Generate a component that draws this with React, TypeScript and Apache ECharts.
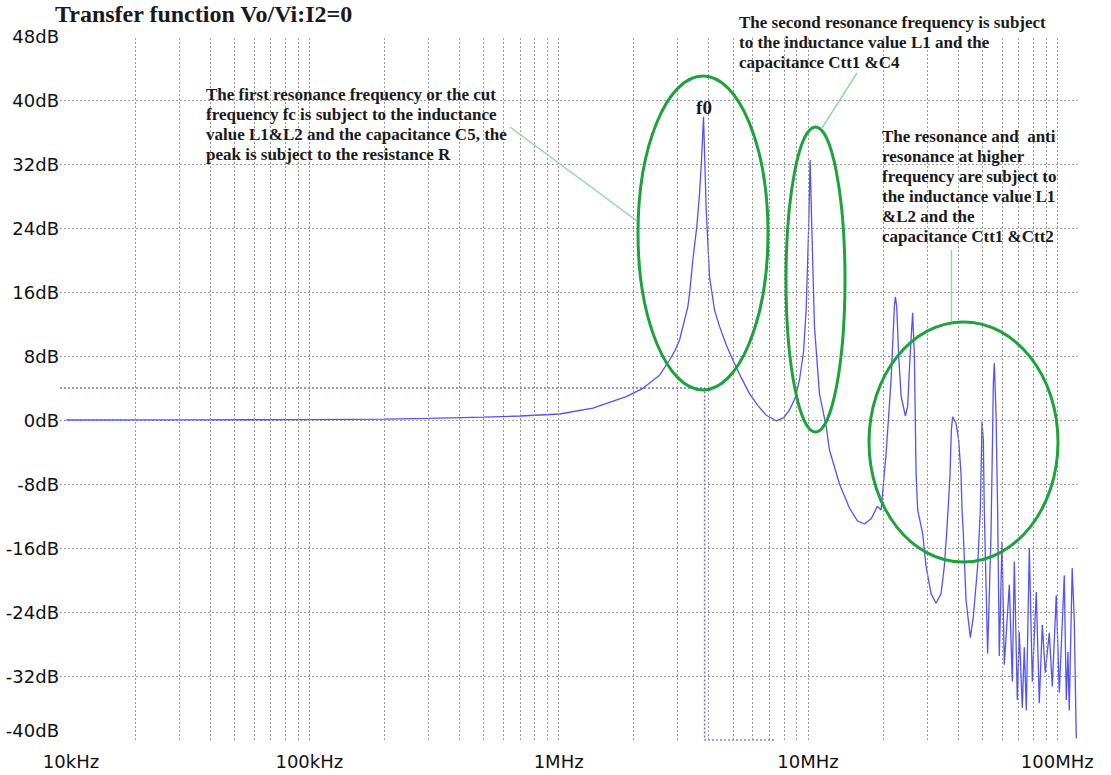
import React, { useEffect, useRef } from "react";
import * as echarts from "echarts";

// ---- data (frequency in MHz, gain in dB) ----
const freqMHz = [
  0.0106, 0.03, 0.1, 0.2, 0.3, 0.5, 0.7, 1.01, 1.372, 1.867, 2.177, 2.54, 2.786, 2.92, 3.055, 3.199, 3.3, 3.351,
  3.454, 3.584, 3.674, 3.742, 3.812, 3.908, 4.03, 4.22, 4.419, 4.7, 4.995, 5.4, 5.83, 6.3, 6.801, 7.457, 8.0, 8.432,
  8.9, 9.245, 9.6, 9.835, 10.07, 10.2, 10.36, 10.62, 11.12, 11.83, 12.2, 13.38, 14.67, 15.79, 16.84, 17.97,
  18.99, 19.65, 20.58, 21.55, 22.22, 22.43, 22.7, 23.12, 23.64, 24.59, 25.12, 25.68, 26.3, 26.72,
  27.15, 27.55, 28.85, 29.77, 31.17, 32.64, 34.19, 35.24, 36.0, 36.67, 37.15, 37.6, 38.05, 39.26,
  40.22, 41.11, 41.5, 42.0, 43.06, 44.8, 46.06, 47.93, 49.14, 49.91, 50.52, 50.98, 52.56, 54.24,
  55.05, 55.41, 55.92, 56.8, 57.65, 58.56, 60.04, 61.33, 64.22, 66.02, 67.26, 69.15, 70.43, 72.41,
  73.75, 75.14, 77.25, 79.41, 82.39, 84.71, 87.09, 89.53, 92.89, 95.5, 99.08, 101.9, 106.7, 108.7,
  110.4, 111.7, 114.8, 117.0, 119.2,
];
const gainDb = [
  0, 0.01, 0.05, 0.12, 0.2, 0.35, 0.5, 0.75, 1.48, 2.92, 3.96, 5.6, 7.5, 8.6, 10, 12.5, 14.2, 15.8,
  20, 24.2, 28.3, 32.5, 37.9, 26.25, 17.9, 13.75, 11.7, 9.4, 7.5, 5.3, 3.3, 1.8, 0.6, -0.1, 0.3, 1.25,
  2.8, 5, 8.5, 13.75, 24.2, 32.5, 24.2, 11.7, 3.3, -0.8, -3.75, -8, -11, -12.6, -13, -12.3,
  -10.8, -11.25, -4.2, 5, 14.2, 15.4, 14.2, 8, 3, 0.5, 1.7, 8, 13.4, 8,
  -6.7, -11.25, -14.2, -18.3, -21.7, -22.9, -21.7, -18.3, -14.2, -10, -6.7, -1.25, 0.4, -0.4,
  -2.5, -6.7, -11.25, -14.2, -22.5, -27.2, -24.6, -18.3, -11.25, -0.2, -2.5, -11.25, -29.2, -14.2,
  -1.7, 4.6, 7.1, 0.8, -11.25, -29.5, -15.2, -30.6, -20.6, -32.7, -17.7, -35, -26.5, -36,
  -28.4, -36.3, -16, -32.7, -21.5, -35.4, -25.6, -31.6, -26.6, -33.3, -21.9, -34.1, -19.4, -35,
  -29, -36.3, -18.5, -25, -39.8,
];

// cursor (dotted marker) at f0
const cursorMHz = [0.01, 3.85, 3.85, 7.34];
const cursorDb = [4, 4, -40, -40];

// axis ticks
const yTicksDb = [-40, -32, -24, -16, -8, 0, 8, 16, 24, 32, 40, 48];
const decadesHz = [1e4, 1e5, 1e6, 1e7, 1e8];
const decadeLabels = ["10kHz", "100kHz", "1MHz", "10MHz", "100MHz"];
const gridMultipliers = [1, 2, 3, 4, 5, 6, 7, 8, 9];

const titleText = "Transfer function Vo/Vi:I2=0";
const note1 =
  "The first resonance frequency or the cut\nfrequency fc is subject to the inductance\nvalue L1&L2 and the capacitance C5, the\npeak is subject to the resistance R";
const note2 =
  "The second resonance frequency is subject\nto the inductance value L1 and the\ncapacitance Ctt1 &C4";
const note3 =
  "The resonance and  anti\nresonance at higher\nfrequency are subject to\nthe inductance value L1\n&L2 and the\ncapacitance Ctt1 &Ctt2";

const GREEN = "#1ca33c";
const LEADER = "#8dd7a0";
const NOTE_FONT = 'bold 17px "Liberation Serif", "Times New Roman", serif';

export default function App() {
  const ref = useRef<HTMLDivElement>(null);

  useEffect(() => {
    if (!ref.current) return;
    const chart = echarts.init(ref.current, undefined, { renderer: "svg" });

    const curve = freqMHz.map((f, i) => [f * 1e6, gainDb[i]]);
    const cursor = cursorMHz.map((f, i) => [f * 1e6, cursorDb[i]]);
    const gridFreqs: number[] = [];
    decadesHz.forEach((d) =>
      gridMultipliers.forEach((m) => {
        const f = d * m;
        if (f > decadesHz[0] && f <= decadesHz[decadesHz.length - 1]) gridFreqs.push(f);
      })
    );

    const labelFont = { fontFamily: "DejaVu Sans", fontSize: 18, color: "#111" };

    chart.setOption({
      animation: false,
      backgroundColor: "#ffffff",
      title: {
        text: titleText,
        left: 55,
        top: 2,
        padding: 0,
        textStyle: {
          fontFamily: '"Liberation Serif", "Times New Roman", serif',
          fontWeight: "bold",
          fontSize: 24,
          color: "#1a1a1a",
        },
      },
      grid: { left: 60, right: 34, top: 36, bottom: 35 },
      xAxis: {
        type: "log",
        logBase: 10,
        min: 1e4,
        max: 1.2e8,
        axisLine: { show: false },
        axisTick: { show: false },
        splitLine: { show: false },
        axisLabel: {
          ...labelFont,
          margin: 12,
          formatter: (v: number) => {
            const idx = decadesHz.findIndex((d) => Math.abs(v / d - 1) < 1e-6);
            if (idx < 0) return "";
            return idx === 0 ? "{first|" + decadeLabels[idx] + "}" : decadeLabels[idx];
          },
          rich: { first: { ...labelFont, padding: [0, 0, 0, 22] } },
        },
      },
      yAxis: {
        type: "value",
        min: yTicksDb[0],
        max: yTicksDb[yTicksDb.length - 1],
        interval: 8,
        axisLine: { show: false },
        axisTick: { show: false },
        splitLine: {
          show: true,
          showMinLine: false,
          showMaxLine: false,
          lineStyle: { color: "#9a9a9a", type: [2, 2], width: 1 },
        },
        axisLabel: {
          ...labelFont,
          margin: 1,
          formatter: (v: number) => (v === yTicksDb[0] ? "{low|" + v + "dB}" : v + "dB"),
          rich: { low: { ...labelFont, padding: [0, 0, 20, 0] } },
        },
      },
      series: [
        {
          type: "line",
          name: "cursor",
          data: cursor,
          showSymbol: false,
          silent: true,
          z: 2,
          lineStyle: { color: "#6d6dff", width: 1.5, type: [2, 2] },
          markLine: {
            silent: true,
            symbol: ["none", "none"],
            label: { show: false },
            animation: false,
            lineStyle: { color: "#9a9a9a", type: [2, 2], width: 1 },
            emphasis: { disabled: true },
            data: gridFreqs.map((f) => ({ xAxis: f })),
          },
        },
        {
          type: "line",
          name: "Vo/Vi",
          data: curve,
          showSymbol: false,
          z: 3,
          lineStyle: { color: "#5252ff", width: 1.3 },
        },
      ],
      graphic: [
        // ellipses
        { type: "ellipse", shape: { cx: 703, cy: 233, rx: 65, ry: 157 }, style: { fill: "none", stroke: GREEN, lineWidth: 3 }, z: 10 },
        { type: "ellipse", shape: { cx: 815.5, cy: 279.5, rx: 29.5, ry: 152.5 }, style: { fill: "none", stroke: GREEN, lineWidth: 3 }, z: 10 },
        { type: "ellipse", shape: { cx: 963.5, cy: 442, rx: 94.5, ry: 120 }, style: { fill: "none", stroke: GREEN, lineWidth: 3 }, z: 10 },
        // leader lines
        { type: "line", shape: { x1: 510, y1: 127, x2: 637, y2: 221 }, style: { stroke: LEADER, lineWidth: 1.4 }, z: 10 },
        { type: "line", shape: { x1: 857, y1: 73, x2: 822, y2: 128 }, style: { stroke: LEADER, lineWidth: 1.4 }, z: 10 },
        { type: "line", shape: { x1: 951.5, y1: 250, x2: 951.5, y2: 321 }, style: { stroke: LEADER, lineWidth: 1.4 }, z: 10 },
        // texts
        { type: "text", x: 206, y: 84, style: { text: note1, font: NOTE_FONT, fill: "#1a1a1a", lineHeight: 20 }, z: 11 },
        { type: "text", x: 739, y: 12, style: { text: note2, font: NOTE_FONT, fill: "#1a1a1a", lineHeight: 20 }, z: 11 },
        { type: "text", x: 882, y: 126, style: { text: note3, font: NOTE_FONT, fill: "#1a1a1a", lineHeight: 20 }, z: 11 },
        {
          type: "text",
          x: 704,
          y: 107,
          style: {
            text: "f0",
            font: 'bold 19px "Liberation Serif", "Times New Roman", serif',
            fill: "#1a1a1a",
            align: "center",
            verticalAlign: "middle",
          },
          z: 11,
        },
      ],
    });

    return () => chart.dispose();
  }, []);

  return (
    <div
      ref={ref}
      style={{ position: "fixed", left: 0, top: 0, width: 1111, height: 775, background: "#fff" }}
    />
  );
}
